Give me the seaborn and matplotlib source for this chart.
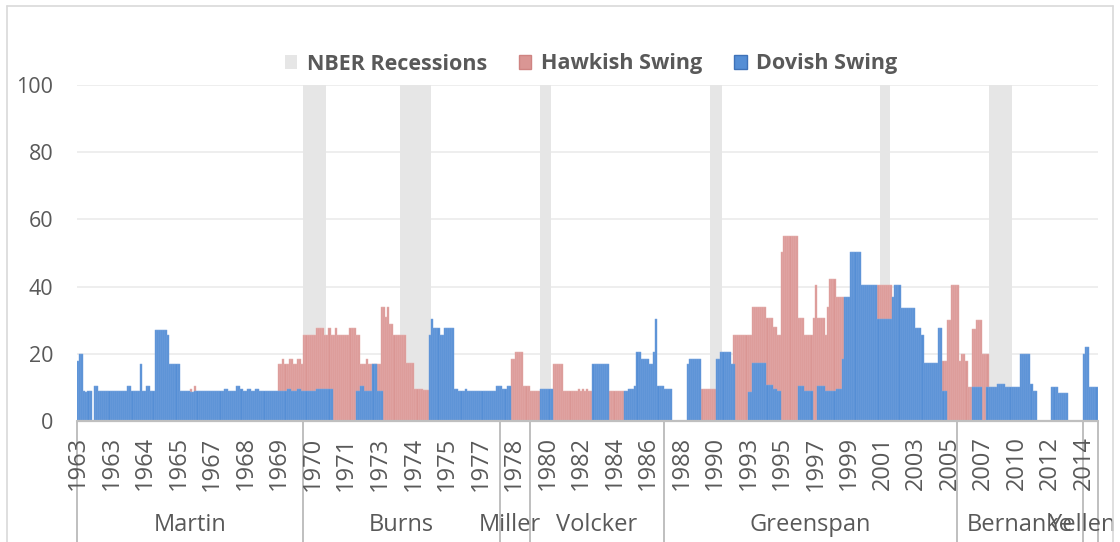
import numpy as np
import pandas as pd
import matplotlib.pyplot as plt
import seaborn as sns
from matplotlib.patches import Patch
from matplotlib.lines import Line2D

# swing per FOMC meeting, stored as (number of meetings, value) runs
dovish_runs = [
    (1, 18), (2, 20), (1, 9), (1, 8.5), (2, 9), (1, 0), (2, 10.5), (14, 9), (2, 10.5), (4, 9),
    (1, 17), (2, 9), (2, 10.5), (2, 9), (6, 27), (1, 25.5), (5, 17), (5, 9), (2, 8.5), (2, 9),
    (12, 8.9), (2, 9.5), (4, 8.9), (2, 10.5), (1, 9.5), (2, 8.9), (2, 9.5), (2, 8.9), (2, 9.5), (9, 8.9),
    (4, 8.9), (2, 9.5), (3, 8.9), (2, 9.5), (7, 8.9), (8, 9.5),
    (11, 0), (2, 9), (2, 10.5), (4, 9), (2, 17), (3, 9), (22, 0),
    (1, 25.5), (1, 30.4), (3, 27.6), (2, 25.5), (5, 27.8),
    (2, 9.5), (3, 8.9), (1, 9.5), (14, 8.9), (3, 10.5), (2, 9.5), (2, 10.5),
    (14, 0), (6, 9.5), (19, 0), (8, 17), (7, 0),
    (2, 8.9), (3, 9.5), (1, 10.5), (2, 20.4), (4, 18.6), (2, 17), (1, 20.4), (1, 30.4), (3, 10.5), (4, 9.5),
    (7, 0), (1, 17), (6, 18.6), (7, 0), (2, 18.6), (5, 20.4), (2, 17), (6, 0),
    (2, 8.7), (7, 17.2), (3, 10.7), (2, 9.5), (2, 8.9), (8, 0),
    (3, 10.5), (4, 8.9), (2, 0), (4, 10.5), (5, 8.9), (3, 9.4), (1, 18.6),
    (3, 36.8), (5, 50.4), (8, 40.5), (7, 30.4), (1, 36.8), (3, 40.5), (7, 33.7), (3, 27.8), (1, 25.5),
    (7, 17.2), (2, 27.8), (2, 9),
    (12, 0), (5, 10), (2, 0), (5, 10), (4, 10.9), (7, 10), (5, 20), (1, 10.9), (2, 8.9),
    (7, 0), (3, 10), (5, 8.2), (7, 0), (1, 20), (2, 22), (4, 10),
]

hawkish_runs = [
    (54, 0), (1, 9.5), (1, 0), (1, 10.5), (39, 0),
    (2, 17), (1, 18.6), (2, 17), (2, 18.6), (2, 17), (2, 18.6), (1, 17),
    (6, 25.5), (4, 27.8), (2, 25.5), (1, 27.8), (2, 25.5), (1, 27.8), (6, 25.5), (3, 27.8), (2, 25.5),
    (3, 17), (1, 18.6), (6, 17),
    (2, 33.8), (1, 30.9), (1, 33.8), (2, 28.8), (6, 25.5), (4, 17.2), (4, 9.6), (3, 9.2),
    (39, 0), (2, 18.6), (4, 20.4), (3, 10.5), (5, 8.9), (6, 0),
    (5, 17), (7, 8.9), (1, 9.5), (1, 8.9), (1, 9.5), (1, 8.9), (1, 9.5), (2, 8.9),
    (8, 0), (7, 8.9), (37, 0), (7, 9.5), (8, 0),
    (9, 25.5), (7, 33.8), (3, 30.6), (2, 27.9), (2, 25.5), (1, 50.4), (7, 55.2),
    (3, 30.6), (4, 25.5), (1, 30.6), (1, 40.5), (4, 30.6), (1, 25.5), (1, 33.8), (3, 42.2), (4, 36.8),
    (16, 0), (7, 40.5), (24, 0),
    (2, 18), (2, 30), (4, 40.4), (1, 18), (2, 20), (1, 18), (2, 10),
    (2, 27.5), (3, 30), (3, 20), (52, 0),
]

# first and last meeting of each NBER recession
recession_periods = [(108, 118), (154, 168), (221, 225), (302, 307), (383, 387), (435, 445)]

chairs = ['Martin', 'Burns', 'Miller', 'Volcker', 'Greenspan', 'Bernanke', 'Yellen']
chair_first_meeting = [0, 108, 202, 216, 280, 420, 480]

year_labels = ['1963', '1963', '1964', '1965', '1967', '1968', '1969', '1970', '1971', '1973',
               '1974', '1975', '1977', '1978', '1980', '1982', '1984', '1986', '1988', '1990',
               '1993', '1995', '1997', '1999', '2001', '2003', '2005', '2007', '2010', '2012', '2014']
label_every = 16


def expand(runs):
    return np.concatenate([np.full(n, v, dtype=float) for n, v in runs])


dovish = expand(dovish_runs)
hawkish = expand(hawkish_runs)
n_meetings = len(dovish)
meeting = np.arange(n_meetings)
recession = np.zeros(n_meetings)
for a, b in recession_periods:
    recession[a:b + 1] = 100

df = pd.DataFrame({'meeting': meeting, 'NBER Recessions': recession,
                   'Hawkish Swing': hawkish, 'Dovish Swing': dovish})

sns.set_theme(style='white')
plt.rcParams['font.family'] = ['Open Sans', 'DejaVu Sans']
text_color = '#595959'
line_color = '#BFBFBF'

fig, ax = plt.subplots(figsize=(11.2, 5.42), dpi=100)
fig.subplots_adjust(left=77 / 1120, right=1097.5 / 1120, bottom=1 - 421 / 542, top=1 - 85 / 542)

series = [
    ('NBER Recessions', '#E6E6E6', 'none', 0),
    ('Hawkish Swing', '#DA9694', '#E7B5B4', 0.35),
    ('Dovish Swing', '#558ED5', '#7EA8E0', 0.35),
]
for col, color, edge, lw in series:
    d = df[df[col] > 0]
    sns.barplot(data=d, x='meeting', y=col, native_scale=True, width=1, color=color,
                saturation=1, edgecolor=edge, linewidth=lw, errorbar=None, ax=ax)

ax.set_xlim(-0.5, n_meetings - 0.5)
ax.set_ylim(0, 100)
ax.set_yticks(range(0, 101, 20))
ax.set_xticks([])
ax.set_xlabel('')
ax.set_ylabel('')
ax.grid(axis='y', color='#EDEDED', lw=1.3)
ax.set_axisbelow(True)
for s in ax.spines.values():
    s.set_visible(False)
ax.tick_params(axis='y', length=0, pad=17, labelsize=15.5, labelcolor=text_color)
ax.axhline(0, color=line_color, lw=1.6, zorder=5, clip_on=False)

# multi-level category axis: years, then chair groups
bounds = chair_first_meeting + [n_meetings]
for b in bounds:
    ax.axvline(b - 0.5, ymin=-0.40, ymax=0, color=line_color, lw=1.4, clip_on=False)

xt = ax.get_xaxis_transform()
for k, lab in enumerate(year_labels):
    ax.annotate(lab, xy=(k * label_every, 0), xycoords=xt, xytext=(0, -11),
                textcoords='offset points', rotation=90, ha='center', va='top',
                fontsize=17, color=text_color, annotation_clip=False)

# Excel nudges the crowded chair names a little; same here (points)
chair_nudge = {'Miller': -4, 'Yellen': -6}
for name, a, b in zip(chairs, bounds[:-1], bounds[1:]):
    ax.annotate(name, xy=((a + b) / 2 - 0.5, 0), xycoords=xt,
                xytext=(chair_nudge.get(name, 0), -75),
                textcoords='offset points', ha='center', va='center',
                fontsize=17, color=text_color, annotation_clip=False)

handles = [
    Patch(facecolor='#E6E6E6', edgecolor='none', label='NBER Recessions'),
    Patch(facecolor='#DA9694', edgecolor='#CF8482', label='Hawkish Swing'),
    Patch(facecolor='#558ED5', edgecolor='#3F72B8', label='Dovish Swing'),
]
fig.legend(handles=handles, loc='center', bbox_to_anchor=(591 / 1120, 1 - 64 / 542), ncol=3,
           frameon=False, prop={'weight': 'bold', 'size': 15.5}, labelcolor=text_color,
           handlelength=0.6, handleheight=0.6, handletextpad=0.45, columnspacing=1.45)

# chart area border
x0, x1, yt = 7 / 1120, 1113 / 1120, 1 - 6 / 542
for xs, ys in [([x0, x1], [yt, yt]), ([x0, x0], [0, yt]), ([x1, x1], [0, yt])]:
    fig.add_artist(Line2D(xs, ys, color='#D9D9D9', lw=1.2))

fig.savefig('out.png', dpi=100)
